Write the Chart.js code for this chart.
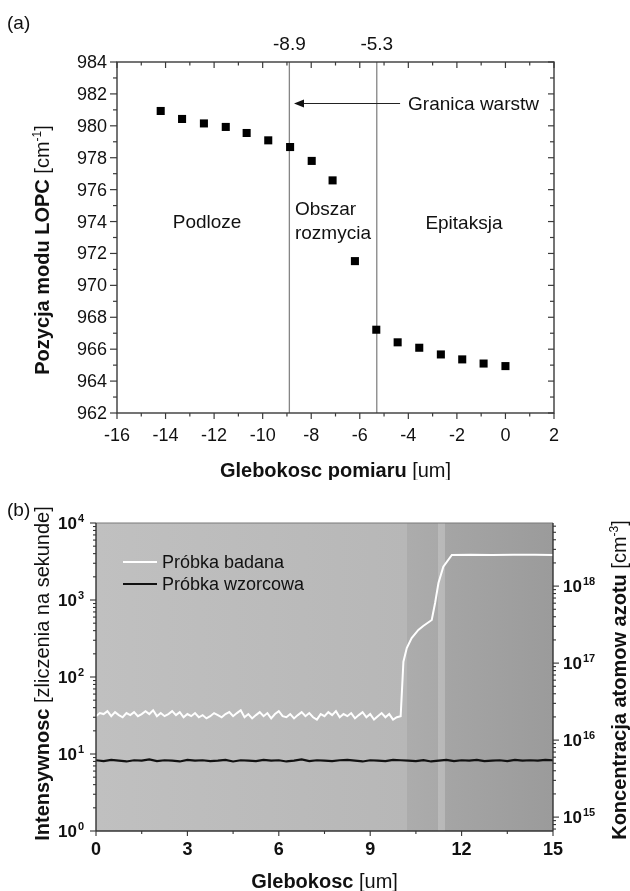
<!DOCTYPE html>
<html>
<head>
<meta charset="utf-8">
<script src="https://cdn.jsdelivr.net/npm/chart.js"></script>
<style>
  html, body { margin: 0; padding: 0; background: #fff; }
  #wrap { position: relative; width: 630px; height: 891px; overflow: hidden; }
  canvas { position: absolute; left: 0; }
  #chartA { top: 0; }
  #chartB { top: 480px; }
</style>
</head>
<body>
<div id="wrap">
  <canvas id="chartA" width="630" height="480"></canvas>
  <canvas id="chartB" width="630" height="411"></canvas>
</div>
<script>
const FONT = '"Liberation Sans", Arial, Helvetica, sans-serif';

// ---- panel (a): LOPC mode position vs depth
const depthA = [-14.2, -13.32, -12.42, -11.52, -10.66, -9.77, -8.87, -7.98, -7.12,
                -6.2, -5.32, -4.44, -3.55, -2.66, -1.78, -0.9, 0.0];
const lopcA = [980.93, 980.43, 980.15, 979.93, 979.55, 979.09, 978.67, 977.8, 976.58,
               971.52, 967.22, 966.43, 966.09, 965.67, 965.36, 965.1, 964.94];
const boundaryDepths = [-8.9, -5.3];
const boundaryLabels = ['-8.9', '-5.3'];
const xTicksA = [-16, -14, -12, -10, -8, -6, -4, -2, 0, 2];
const yTicksA = [962, 964, 966, 968, 970, 972, 974, 976, 978, 980, 982, 984];

// ---- panel (b): SIMS intensity vs depth
// badana, flat part 0..10 um
const sampleFlat = [
  31, 34, 33, 36, 31, 35, 32, 30, 34,
  32, 35, 31, 33, 36, 33, 37, 31, 34,
  31, 33, 36, 32, 35, 30, 33, 31, 34,
  30, 32, 29, 31, 34, 32, 30, 33, 35,
  31, 34, 37, 30, 33, 29, 32, 35, 31,
  34, 29, 33, 36, 31, 30, 33, 29, 32,
  35, 31, 34, 30, 28, 33, 31, 35, 32,
  36, 30, 33, 31, 34, 29, 32, 35, 30,
  33, 28, 31, 34, 30, 33, 28, 30, 31
];
const sampleRiseDepth = [10.09, 10.2, 10.36, 10.58, 10.74, 11.02, 11.13, 11.24, 11.4, 11.68, 12.3, 13.0, 13.7, 14.4, 15];
const sampleRiseValue = [158, 238, 321, 408, 459, 550, 914, 1663, 2707, 3840, 3880, 3850, 3870, 3860, 3850];
// wzorcowa, 0..15 um
const referenceFlat = [
  8.3, 8.1, 8.4, 8.2, 8.0, 8.3, 8.2, 8.5, 8.1, 8.3,
  8.2, 8.0, 8.4, 8.2, 8.3, 8.1, 8.2, 8.4, 8.0, 8.3,
  8.2, 8.1, 8.4, 8.2, 8.3, 8.0, 8.2, 8.5, 8.1, 8.3,
  8.2, 8.1, 8.3, 8.4, 8.2, 8.0, 8.3, 8.2, 8.1, 8.4,
  8.3, 8.2, 8.1, 8.3, 8.0, 8.2, 8.4, 8.1, 8.3, 8.2,
  8.4, 8.1, 8.2, 8.3, 8.1, 8.4, 8.2, 8.3, 8.2, 8.4,
  8.3
];
const xTicksB = [0, 3, 6, 9, 12, 15];
const leftExpB = [0, 1, 2, 3, 4];
const rightExpB = [15, 16, 17, 18];
const seriesNames = ['Próbka badana', 'Próbka wzorcowa'];

function seg(ctx, x1, y1, x2, y2) {
  ctx.beginPath(); ctx.moveTo(x1, y1); ctx.lineTo(x2, y2); ctx.stroke();
}

// text made of bold / normal / superscript pieces, centred on cx
function drawParts(ctx, parts, cx, cy, angle) {
  ctx.save();
  ctx.translate(cx, cy);
  ctx.rotate(angle || 0);
  ctx.textAlign = 'left';
  ctx.textBaseline = 'alphabetic';
  ctx.fillStyle = '#111';
  let total = 0;
  parts.forEach(p => { ctx.font = p.font; total += ctx.measureText(p.text).width; });
  let pos = -total / 2;
  parts.forEach(p => {
    ctx.font = p.font;
    ctx.fillText(p.text, pos, p.dy || 0);
    pos += ctx.measureText(p.text).width;
  });
  ctx.restore();
}

// ---------- panel (a)
const panelA = {
  id: 'panelA',
  afterDraw(chart) {
    const { ctx, chartArea: a, scales: { x, y } } = chart;
    ctx.save();
    ctx.strokeStyle = '#3a3a3a';
    ctx.lineWidth = 1.4;
    ctx.strokeRect(a.left, a.top, a.right - a.left, a.bottom - a.top);
    ctx.lineWidth = 1.2;
    for (let v = -16; v <= 2; v++) {
      const px = x.getPixelForValue(v), len = v % 2 === 0 ? 6 : 3.5;
      seg(ctx, px, a.bottom, px, a.bottom + len);
      seg(ctx, px, a.top, px, a.top + len);
    }
    for (let v = 962; v <= 984; v++) {
      const py = y.getPixelForValue(v), major = v % 2 === 0;
      seg(ctx, a.left - (major ? 7 : 4), py, a.left, py);
      seg(ctx, a.right - (major ? 6 : 4), py, a.right, py);
    }

    ctx.fillStyle = '#111';
    ctx.font = '18px ' + FONT;
    ctx.textBaseline = 'alphabetic';
    ctx.textAlign = 'right';
    yTicksA.forEach(v => ctx.fillText(String(v), a.left - 10, y.getPixelForValue(v) + 6));
    ctx.textAlign = 'center';
    xTicksA.forEach(v => ctx.fillText(String(v), x.getPixelForValue(v), a.bottom + 28));

    ctx.font = '19px ' + FONT;
    boundaryDepths.forEach((d, i) => ctx.fillText(boundaryLabels[i], x.getPixelForValue(d), a.top - 12));

    // arrow + "Granica warstw"
    const ay = y.getPixelForValue(981.4);
    const tail = x.getPixelForValue(-4.34), head = x.getPixelForValue(-8.71);
    ctx.strokeStyle = '#222';
    ctx.lineWidth = 1.2;
    seg(ctx, tail, ay, head + 6, ay);
    ctx.beginPath();
    ctx.moveTo(head, ay); ctx.lineTo(head + 10, ay - 4); ctx.lineTo(head + 10, ay + 4); ctx.closePath();
    ctx.fill();
    ctx.textAlign = 'left';
    ctx.fillText('Granica warstw', x.getPixelForValue(-4.01), ay + 7);

    ctx.textAlign = 'center';
    ctx.fillText('Podloze', x.getPixelForValue(-12.29), y.getPixelForValue(973.6));
    ctx.fillText('Epitaksja', x.getPixelForValue(-1.71), y.getPixelForValue(973.53));
    ctx.textAlign = 'left';
    ctx.fillText('Obszar', x.getPixelForValue(-8.67), y.getPixelForValue(974.41));
    ctx.fillText('rozmycia', x.getPixelForValue(-8.67), y.getPixelForValue(972.9));

    ctx.fillText('(a)', 7, 29);
    ctx.restore();

    drawParts(ctx, [
      { text: 'Pozycja modu LOPC ', font: 'bold 20px ' + FONT },
      { text: '[cm', font: '20px ' + FONT },
      { text: '-1', font: '12px ' + FONT, dy: -8 },
      { text: ']', font: '20px ' + FONT }
    ], 49, 250, -Math.PI / 2);
    drawParts(ctx, [
      { text: 'Glebokosc pomiaru', font: 'bold 20px ' + FONT },
      { text: ' [um]', font: '20px ' + FONT }
    ], (a.left + a.right) / 2, 477);
  }
};

new Chart(document.getElementById('chartA'), {
  type: 'scatter',
  data: {
    datasets: [
      {
        data: depthA.map((d, i) => ({ x: d, y: lopcA[i] })),
        pointStyle: 'rect',
        pointRadius: 5.7,
        pointHoverRadius: 5.7,
        backgroundColor: '#000',
        borderColor: '#000',
        borderWidth: 0
      },
      ...boundaryDepths.map(d => ({
        type: 'line',
        data: [{ x: d, y: 962 }, { x: d, y: 984 }],
        borderColor: '#858585',
        borderWidth: 1.3,
        pointRadius: 0,
        showLine: true
      }))
    ]
  },
  options: {
    responsive: false,
    animation: false,
    events: [],
    layout: { padding: { top: 62, right: 76, left: 0, bottom: 0 } },
    plugins: { legend: { display: false }, tooltip: { enabled: false } },
    scales: {
      x: {
        type: 'linear', min: -16, max: 2,
        ticks: { display: false }, grid: { display: false }, border: { display: false },
        afterFit: s => { s.height = 67; }
      },
      y: {
        type: 'linear', min: 962, max: 984,
        ticks: { display: false }, grid: { display: false }, border: { display: false },
        afterFit: s => { s.width = 117; }
      }
    }
  },
  plugins: [panelA]
});

// ---------- panel (b)
const bandsB = [
  { from: 0, to: 10.2, c0: '#c0c0c0', c1: '#b7b7b7' },
  { from: 10.2, to: 11.24, c0: '#acacac', c1: '#a9a9a9' },
  { from: 11.24, to: 11.46, c0: '#bababa', c1: '#b8b8b8' },
  { from: 11.46, to: 15, c0: '#a5a5a5', c1: '#9b9b9b' }
];

function drawPow(ctx, exp, px, py, align) {
  ctx.font = 'bold 17px ' + FONT;
  const w1 = ctx.measureText('10').width;
  ctx.font = 'bold 11px ' + FONT;
  const w2 = ctx.measureText(String(exp)).width;
  const x0 = align === 'right' ? px - w1 - w2 - 1 : px;
  ctx.font = 'bold 17px ' + FONT;
  ctx.fillText('10', x0, py + 6);
  ctx.font = 'bold 11px ' + FONT;
  ctx.fillText(String(exp), x0 + w1 + 1, py - 1);
}

const panelB = {
  id: 'panelB',
  beforeDatasetsDraw(chart) {
    const { ctx, chartArea: a, scales: { x } } = chart;
    ctx.save();
    bandsB.forEach(b => {
      const x0 = Math.round(x.getPixelForValue(b.from)), x1 = Math.round(x.getPixelForValue(b.to));
      const g = ctx.createLinearGradient(x0, 0, x1, 0);
      g.addColorStop(0, b.c0); g.addColorStop(1, b.c1);
      ctx.fillStyle = g;
      ctx.fillRect(x0, a.top, x1 - x0, a.bottom - a.top);
    });
    ctx.restore();
  },
  afterDraw(chart) {
    const { ctx, chartArea: a, scales: { x, y, y2 } } = chart;
    ctx.save();
    // frame
    ctx.strokeStyle = '#7a7a7a';
    ctx.lineWidth = 1.2;
    seg(ctx, a.left, a.top, a.right, a.top);
    ctx.strokeStyle = '#333';
    ctx.lineWidth = 1.4;
    seg(ctx, a.left, a.top, a.left, a.bottom);
    seg(ctx, a.left, a.bottom, a.right, a.bottom);
    seg(ctx, a.right, a.top, a.right, a.bottom);

    ctx.lineWidth = 1.1;
    // bottom ticks
    for (let v = 0; v <= 15; v += 1.5) {
      const px = x.getPixelForValue(v), major = v % 3 === 0;
      seg(ctx, px, a.bottom, px, a.bottom + (major ? 5 : 3));
    }
    // left ticks
    for (let e = 0; e <= 4; e++) {
      for (let k = 1; k <= 9; k++) {
        const v = k * Math.pow(10, e);
        if (v > 10000) break;
        const py = y.getPixelForValue(v);
        seg(ctx, a.left - (k === 1 ? 6 : 3), py, a.left, py);
      }
    }
    // right ticks
    for (let e = 14; e <= 18; e++) {
      for (let k = 1; k <= 9; k++) {
        const v = k * Math.pow(10, e);
        if (v < y2.min || v > y2.max) continue;
        const py = y2.getPixelForValue(v);
        seg(ctx, a.right, py, a.right + (k === 1 ? 6 : 3), py);
      }
    }

    ctx.fillStyle = '#111';
    ctx.textBaseline = 'alphabetic';
    ctx.textAlign = 'left';
    leftExpB.forEach(e => drawPow(ctx, e, a.left - 12, y.getPixelForValue(Math.pow(10, e)), 'right'));
    rightExpB.forEach(e => drawPow(ctx, e, a.right + 10, y2.getPixelForValue(Math.pow(10, e)), 'left'));

    ctx.font = 'bold 18px ' + FONT;
    ctx.textAlign = 'center';
    xTicksB.forEach(v => ctx.fillText(String(v), x.getPixelForValue(v), a.bottom + 24));

    // legend
    const lx = a.left + 27, ly = a.top + 39;
    const colors = ['#ffffff', '#111111'];
    ctx.lineWidth = 1.8;
    ctx.font = '18px ' + FONT;
    ctx.textAlign = 'left';
    ctx.textBaseline = 'middle';
    seriesNames.forEach((n, i) => {
      ctx.strokeStyle = colors[i];
      seg(ctx, lx, ly + i * 22, lx + 34, ly + i * 22);
      ctx.fillText(n, lx + 39, ly + i * 22 + 1);
    });

    ctx.textBaseline = 'alphabetic';
    ctx.font = '19px ' + FONT;
    ctx.fillText('(b)', 7, 36);
    ctx.restore();

    drawParts(ctx, [
      { text: 'Intensywnosc ', font: 'bold 20px ' + FONT },
      { text: '[zliczenia na sekunde]', font: '20px ' + FONT }
    ], 49, 193.5, -Math.PI / 2);
    drawParts(ctx, [
      { text: 'Koncentracja atomow azotu ', font: 'bold 20px ' + FONT },
      { text: '[cm', font: '20px ' + FONT },
      { text: '-3', font: '12px ' + FONT, dy: -8 },
      { text: ']', font: '20px ' + FONT }
    ], 626, 200, -Math.PI / 2);
    drawParts(ctx, [
      { text: 'Glebokosc', font: 'bold 20px ' + FONT },
      { text: ' [um]', font: '20px ' + FONT }
    ], (a.left + a.right) / 2, 408);
  }
};

const sampleData = sampleFlat.map((v, i) => ({ x: i * 10 / (sampleFlat.length - 1), y: v }))
  .concat(sampleRiseDepth.map((d, i) => ({ x: d, y: sampleRiseValue[i] })));
const referenceData = referenceFlat.map((v, i) => ({ x: i * 15 / (referenceFlat.length - 1), y: v }));

new Chart(document.getElementById('chartB'), {
  type: 'line',
  data: {
    datasets: [
      { label: seriesNames[0], data: sampleData, borderColor: '#ffffff', borderWidth: 2, pointRadius: 0, tension: 0, yAxisID: 'y' },
      { label: seriesNames[1], data: referenceData, borderColor: '#111111', borderWidth: 2.2, pointRadius: 0, tension: 0, yAxisID: 'y' }
    ]
  },
  options: {
    responsive: false,
    animation: false,
    events: [],
    layout: { padding: { top: 43, left: 0, right: 0, bottom: 0 } },
    plugins: { legend: { display: false }, tooltip: { enabled: false } },
    scales: {
      x: {
        type: 'linear', min: 0, max: 15,
        ticks: { display: false }, grid: { display: false }, border: { display: false },
        afterFit: s => { s.height = 60; }
      },
      y: {
        type: 'logarithmic', position: 'left', min: 1, max: 10000,
        ticks: { display: false }, grid: { display: false }, border: { display: false },
        afterFit: s => { s.width = 96; }
      },
      y2: {
        type: 'logarithmic', position: 'right', min: 6.6e14, max: 6.6e18,
        ticks: { display: false }, grid: { display: false }, border: { display: false },
        afterFit: s => { s.width = 77; }
      }
    }
  },
  plugins: [panelB]
});
</script>
</body>
</html>
